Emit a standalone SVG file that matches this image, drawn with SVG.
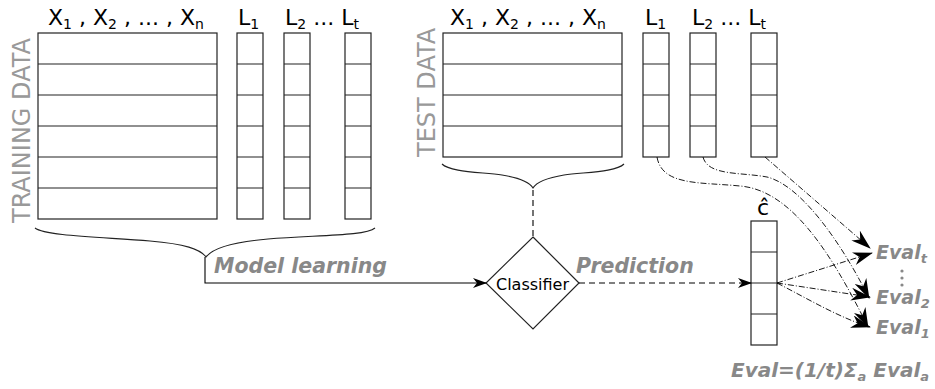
<svg xmlns="http://www.w3.org/2000/svg" width="935" height="389" viewBox="0 0 935 389">
  <style>
    .cell { fill: #fff; stroke: #222; stroke-width: 1.2; }
    .row { stroke: #222; stroke-width: 1.2; }
    .hdr { font-family: "DejaVu Sans", sans-serif; font-size: 22px; fill: #000; }
    .sub { font-size: 14px; }
    .side { font-family: "DejaVu Sans", sans-serif; font-size: 24px; fill: #999; }
    .lbl { font-family: "DejaVu Sans", sans-serif; font-weight: bold; font-style: oblique; fill: #888; }
    .brace { fill: none; stroke: #222; stroke-width: 1.1; }
    .solid { fill: none; stroke: #000; stroke-width: 1.1; }
    .dash { fill: none; stroke: #000; stroke-width: 1.1; stroke-dasharray: 6 4; }
    .dashdot { fill: none; stroke: #000; stroke-width: 0.9; stroke-dasharray: 6 2 1 2; }
  </style>
  <defs>
    <marker id="arr" viewBox="0 0 14 10" refX="13" refY="5" markerWidth="14" markerHeight="10" markerUnits="userSpaceOnUse" orient="auto">
      <path d="M0,0 L14,5 L0,10 L4,5 z" fill="#000"/>
    </marker>
    <marker id="arrBig" viewBox="0 0 20 13" refX="19" refY="6.5" markerWidth="20" markerHeight="13" markerUnits="userSpaceOnUse" orient="auto">
      <path d="M0,0 L20,6.5 L0,13 L6,6.5 z" fill="#000"/>
    </marker>
  </defs>

  <!-- training set -->
  <g id="training-data">
    <text class="side" transform="translate(30,223) rotate(-90)">TRAINING DATA</text>
    <text class="hdr" x="48" y="25">X<tspan class="sub" dy="4">1</tspan><tspan dy="-4"> , X</tspan><tspan class="sub" dy="4">2</tspan><tspan dy="-4"> , ... , X</tspan><tspan class="sub" dy="4">n</tspan></text>
    <rect class="cell" x="38" y="33" width="179" height="186"/>
    <path class="row" d="M38,64H217M38,95H217M38,126H217M38,157H217M38,188H217"/>
    <text class="hdr" x="238" y="25">L<tspan class="sub" dy="4">1</tspan></text>
    <text class="hdr" x="285" y="25">L<tspan class="sub" dy="4">2</tspan><tspan dy="-4"> ... L</tspan><tspan class="sub" dy="4">t</tspan></text>
    <rect class="cell" x="237" y="33" width="26" height="186"/>
    <rect class="cell" x="284" y="33" width="26" height="186"/>
    <rect class="cell" x="345" y="33" width="26" height="186"/>
    <path class="row" d="M237,64h26M237,95h26M237,126h26M237,157h26M237,188h26"/>
    <path class="row" d="M284,64h26M284,95h26M284,126h26M284,157h26M284,188h26"/>
    <path class="row" d="M345,64h26M345,95h26M345,126h26M345,157h26M345,188h26"/>
    <path class="brace" d="M35,228 C45,236 100,237 150,241 C185,244 200,249 206,257 C212,249 232,242 268,239 C318,235 366,236 375,228"/>
  </g>

  <!-- test set -->
  <g id="test-data">
    <text class="side" transform="translate(435,157) rotate(-90)">TEST DATA</text>
    <text class="hdr" x="450" y="25">X<tspan class="sub" dy="4">1</tspan><tspan dy="-4"> , X</tspan><tspan class="sub" dy="4">2</tspan><tspan dy="-4"> , ... , X</tspan><tspan class="sub" dy="4">n</tspan></text>
    <rect class="cell" x="443" y="33" width="179" height="124"/>
    <path class="row" d="M443,64H622M443,95H622M443,126H622"/>
    <text class="hdr" x="645" y="25">L<tspan class="sub" dy="4">1</tspan></text>
    <text class="hdr" x="692" y="25">L<tspan class="sub" dy="4">2</tspan><tspan dy="-4"> ... L</tspan><tspan class="sub" dy="4">t</tspan></text>
    <rect class="cell" x="643" y="33" width="26" height="124"/>
    <rect class="cell" x="690" y="33" width="26" height="124"/>
    <rect class="cell" x="751" y="33" width="26" height="124"/>
    <path class="row" d="M643,64h26M643,95h26M643,126h26"/>
    <path class="row" d="M690,64h26M690,95h26M690,126h26"/>
    <path class="row" d="M751,64h26M751,95h26M751,126h26"/>
    <path class="brace" d="M442,164 C450,172 480,172 502,175 C520,178 530,183 533,188 C536,183 546,178 564,175 C586,172 616,172 624,164"/>
  </g>

  <!-- classifier -->
  <g id="classifier">
    <polygon points="533,237 579,283 533,329 486,283" fill="#fff" stroke="#222" stroke-width="1.2"/>
    <text x="532.5" y="290" text-anchor="middle" font-family="DejaVu Sans, sans-serif" font-size="16">Classifier</text>
  </g>

  <!-- predicted labels -->
  <g id="prediction">
    <text class="hdr" x="763" y="215" text-anchor="middle">ĉ</text>
    <rect class="cell" x="751" y="221" width="26" height="124"/>
    <path class="row" d="M751,252h26M751,283h26M751,314h26"/>
  </g>

  <!-- evaluation results -->
  <g id="evaluation">
    <text class="lbl" x="876" y="259" font-size="19">Eval<tspan font-size="13" dy="4">t</tspan></text>
    <circle cx="902" cy="271" r="1.6" fill="#888"/>
    <circle cx="902" cy="278" r="1.6" fill="#888"/>
    <circle cx="902" cy="285" r="1.6" fill="#888"/>
    <text class="lbl" x="876" y="304" font-size="19">Eval<tspan font-size="13" dy="4">2</tspan></text>
    <text class="lbl" x="876" y="334" font-size="19">Eval<tspan font-size="13" dy="4">1</tspan></text>
    <text class="lbl" x="731" y="377" font-size="20">Eval=(1/t)Σ<tspan font-size="13" dy="4">a</tspan><tspan dy="-4"> Eval</tspan><tspan font-size="13" dy="4">a</tspan></text>
  </g>

  <!-- connectors -->
  <g id="connectors">
    <path class="solid" d="M205,257 L205,283 L486,283" marker-end="url(#arr)"/>
    <text class="lbl" x="214" y="273" font-size="20.5">Model learning</text>
    <path class="dash" d="M533,190 L533,237" stroke-dasharray="3 5"/>
    <path class="dash" d="M579,283 L751,283" marker-end="url(#arr)"/>
    <text class="lbl" x="576" y="273" font-size="20.5">Prediction</text>
    <path class="dashdot" d="M777,283 L872,253" marker-end="url(#arrBig)"/>
    <path class="dashdot" d="M777,283 L870,297" marker-end="url(#arrBig)"/>
    <path class="dashdot" d="M777,283 C810,300 840,318 870,327" marker-end="url(#arrBig)"/>
    <path class="dashdot" d="M765,157 L870,248" marker-end="url(#arrBig)"/>
    <path class="dashdot" d="M703,157 C708,176 740,172 767,177 C800,185 840,240 869,298" marker-end="url(#arrBig)"/>
    <path class="dashdot" d="M657,157 C662,186 700,182 740,186 C790,190 830,250 868,327" marker-end="url(#arrBig)"/>
  </g>
</svg>
